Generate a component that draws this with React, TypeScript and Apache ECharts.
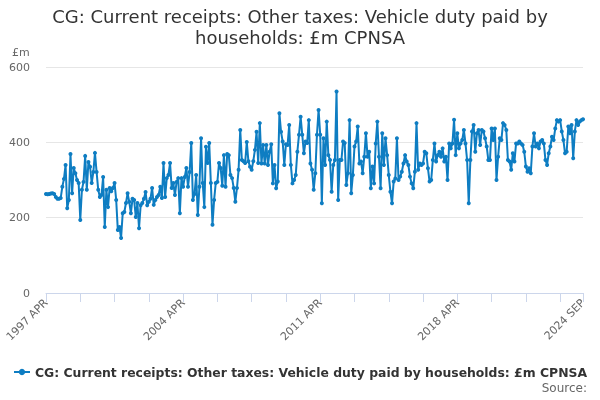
import React, { useEffect, useRef } from "react";
import * as echarts from "echarts";

const TITLE = "CG: Current receipts: Other taxes: Vehicle duty paid by\nhouseholds: £m CPNSA";
const SERIES_NAME = "CG: Current receipts: Other taxes: Vehicle duty paid by households: £m CPNSA";
const MONTHS = ["JAN", "FEB", "MAR", "APR", "MAY", "JUN", "JUL", "AUG", "SEP", "OCT", "NOV", "DEC"];
const START_YEAR = 1997;
const START_MONTH = 3; // APR
const Y_TICKS = [0, 200, 400, 600];

// 1997 APR - 2002 SEP
const values1997 = [
  263, 262, 263, 264, 265, 263, 255, 250, 250, 252, 282, 303, 340, 225, 247, 369, 265, 332, 318, 300,
  292, 194, 274, 295, 364, 274, 348, 335, 292, 321, 372, 321, 274, 255, 260, 308, 175, 274, 228, 279,
  270, 279, 292, 247, 167, 175, 146, 212, 215, 239, 265, 242, 212, 250, 247, 202, 239, 172, 233, 239,
  250, 268, 233, 242, 250, 279,
];
// 2002 OCT - 2008 FEB
const values2002 = [
  234, 247, 255, 260, 282, 252, 345, 255, 305, 313, 345, 279, 292, 260, 295, 305, 212, 305, 282, 308,
  332, 282, 321, 398, 247, 263, 313, 207, 282, 411, 292, 228, 388, 345, 398, 292, 181, 247, 292, 295,
  345, 332, 285, 366, 282, 369, 366, 313, 305, 279, 242, 279, 327, 433, 353, 350, 345, 401, 350, 335,
  327, 350, 380, 428, 345,
];
// 2008 MAR - 2013 DEC
const values2008 = [
  451, 344, 393, 344, 393, 340, 375, 395, 291, 340, 278, 296, 477, 428, 402, 340, 395, 393, 446, 340,
  291, 300, 313, 375, 420, 468, 420, 371, 402, 398, 459, 344, 327, 274, 318, 420, 486, 420, 238, 411,
  340, 455, 366, 353, 269, 340, 353, 535, 247, 353, 353, 402, 398, 287, 318, 459, 265, 313, 389, 402,
  442, 344, 349, 318, 362, 424, 362, 375,
];
// 2014 JAN - 2019 JUN
const values2014 = [
  278, 336, 291, 397, 455, 362, 278, 424, 340, 411, 366, 313, 269, 238, 296, 304, 411, 300, 309, 322,
  344, 366, 349, 340, 309, 291, 278, 322, 451, 327, 344, 340, 344, 375, 371, 331, 296, 300, 353, 397,
  349, 366, 375, 362, 384, 349, 362, 300, 397, 384, 397, 460, 366, 424, 384, 397, 406, 433, 397, 353,
  238, 353, 429, 446, 375, 424,
];
// 2019 JUL - 2024 SEP
const values2019 = [
  433, 393, 433, 429, 411, 389, 353, 353, 437, 406, 437, 300, 362, 411, 406, 451, 446, 433, 353, 349,
  327, 371, 349, 397, 397, 402, 397, 393, 375, 336, 322, 331, 318, 389, 424, 389, 397, 384, 402, 406,
  397, 353, 340, 371, 389, 415, 406, 437, 459, 455, 459, 429, 406, 371, 375, 442, 424, 446, 358, 429,
  459, 446, 455, 459, 461,
];

const values = [...values1997, ...values2002, ...values2008, ...values2014, ...values2019];

const categories: string[] = values.map((_, i) => {
  const m = START_MONTH + i;
  return `${START_YEAR + Math.floor(m / 12)} ${MONTHS[m % 12]}`;
});

export default function App() {
  const ref = useRef<HTMLDivElement>(null);
  useEffect(() => {
    if (!ref.current) return;
    const chart = echarts.init(ref.current, undefined, { renderer: "svg" });
    const last = categories.length - 1;
    const font = "'DejaVu Sans', sans-serif";
    chart.setOption({
      animation: false,
      textStyle: { fontFamily: font },
      title: {
        text: TITLE,
        left: "center",
        top: 1,
        textStyle: { fontSize: 18, fontWeight: "normal", color: "#333", lineHeight: 21, fontFamily: font },
      },
      grid: { left: 46, right: 17, top: 67, bottom: 107, containLabel: false },
      legend: {
        data: [SERIES_NAME],
        left: "center",
        top: 361,
        itemWidth: 16,
        itemHeight: 8,
        itemGap: 5,
        textStyle: { fontSize: 12.4, fontWeight: "bold", color: "#333", fontFamily: font },
      },
      graphic: [
        {
          type: "text",
          left: 12,
          top: 47,
          style: { text: "£m", fontSize: 11, fill: "#666", fontFamily: font },
        },
        {
          type: "text",
          right: 13,
          top: 382,
          style: { text: "Source:", fontSize: 12, fill: "#666", fontFamily: font },
        },
      ],
      xAxis: {
        type: "category",
        data: categories,
        boundaryGap: false,
        axisLine: { lineStyle: { color: "#ccd6eb" } },
        axisTick: {
          show: true,
          length: 9,
          interval: (i: number) => i % 21 === 0 || i === last,
          lineStyle: { color: "#ccd6eb" },
        },
        axisLabel: {
          interval: (i: number) => i % 84 === 0 || i === last,
          rotate: 45,
          fontSize: 11,
          color: "#666",
          margin: 8,
          fontFamily: font,
          showMaxLabel: true,
        },
        splitLine: { show: false },
      },
      yAxis: {
        type: "value",
        min: Y_TICKS[0],
        max: Y_TICKS[Y_TICKS.length - 1],
        interval: Y_TICKS[1] - Y_TICKS[0],
        axisLine: { show: false },
        axisTick: { show: false },
        axisLabel: { fontSize: 11, color: "#666", margin: 16, fontFamily: font },
        splitLine: { lineStyle: { color: "#e6e6e6" } },
      },
      series: [
        {
          name: SERIES_NAME,
          type: "line",
          data: values,
          showAllSymbol: true,
          symbol: "circle",
          symbolSize: 4,
          itemStyle: { color: "#0e7dc2" },
          lineStyle: { color: "#0e7dc2", width: 2 },
        },
      ],
    });
    return () => chart.dispose();
  }, []);
  return <div ref={ref} style={{ position: "fixed", left: 0, top: 0, width: 600, height: 400 }} />;
}
